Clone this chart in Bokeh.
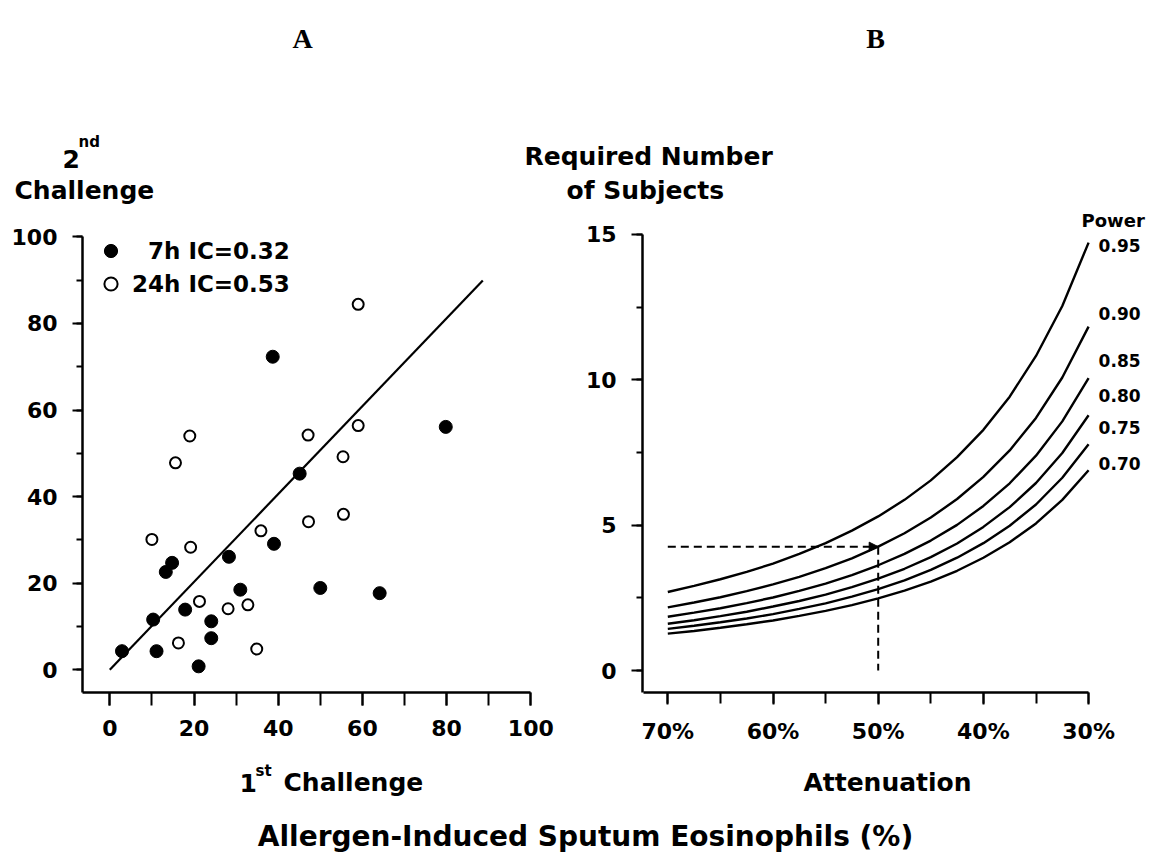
from bokeh.plotting import figure
from bokeh.models import (Range1d, SingleIntervalTicker, PrintfTickFormatter, Label, LabelSet,
                          Legend, LegendItem, ColumnDataSource, Arrow, NormalHead, LinearAxis)
from bokeh.core.properties import value
from bokeh.embed import file_html
from bokeh.resources import INLINE

# ---------------- Panel A data ----------------
h7_first = [2.9, 10.3, 11.1, 13.3, 14.8, 17.9, 21.1, 24.1, 24.1, 28.3, 31.0, 38.7, 39.0, 45.1, 50.0, 64.1, 79.8]
h7_second = [4.3, 11.6, 4.3, 22.6, 24.7, 13.9, 0.8, 11.2, 7.3, 26.1, 18.5, 72.3, 29.1, 45.3, 18.9, 17.7, 56.1]
h24_first = [10.0, 15.6, 16.3, 19.0, 19.2, 21.3, 28.1, 32.8, 34.9, 35.9, 47.1, 47.2, 55.4, 55.5, 59.0, 59.0]
h24_second = [30.1, 47.8, 6.2, 54.0, 28.3, 15.8, 14.1, 15.0, 4.8, 32.1, 54.2, 34.2, 49.2, 35.9, 56.4, 84.4]
fit_first = [0.0, 88.6]
fit_second = [0.0, 89.9]
legend_labels = ["\u00a0\u00a07h IC=0.32", "24h IC=0.53"]

# ---------------- Panel B data ----------------
attenuation = [70, 67.5, 65, 62.5, 60, 57.5, 55, 52.5, 50, 47.5, 45, 42.5, 40, 37.5, 35, 32.5, 30]
power_levels = ["0.95", "0.90", "0.85", "0.80", "0.75", "0.70"]
n_095 = [2.70, 2.91, 3.14, 3.39, 3.68, 4.01, 4.38, 4.81, 5.30, 5.87, 6.54, 7.34, 8.28, 9.42, 10.82, 12.54, 14.72]
n_090 = [2.17, 2.34, 2.52, 2.73, 2.96, 3.22, 3.52, 3.86, 4.26, 4.72, 5.26, 5.90, 6.66, 7.57, 8.69, 10.08, 11.83]
n_085 = [1.85, 1.99, 2.14, 2.32, 2.51, 2.74, 2.99, 3.28, 3.62, 4.01, 4.47, 5.01, 5.66, 6.44, 7.39, 8.57, 10.06]
n_080 = [1.61, 1.73, 1.87, 2.02, 2.20, 2.39, 2.61, 2.87, 3.16, 3.50, 3.90, 4.37, 4.94, 5.62, 6.45, 7.48, 8.78]
n_075 = [1.43, 1.54, 1.66, 1.79, 1.94, 2.12, 2.31, 2.54, 2.80, 3.10, 3.46, 3.88, 4.38, 4.98, 5.71, 6.63, 7.78]
n_070 = [1.27, 1.36, 1.47, 1.59, 1.72, 1.88, 2.05, 2.25, 2.48, 2.75, 3.06, 3.43, 3.88, 4.41, 5.06, 5.87, 6.89]
power_label_n = [14.62, 12.27, 10.66, 9.46, 8.37, 7.13]
ref_attenuation = 50
ref_n = 4.26

FONT = "DejaVu Sans"
SERIF = "Liberation Serif"
W, H = 1150, 855

# One canvas-sized frame; default ranges = page pixels (y measured from the top)
p = figure(width=W, height=H, x_range=Range1d(0, W), y_range=Range1d(H, 0),
           output_backend="svg", toolbar_location=None,
           x_axis_location=None, y_axis_location=None,
           min_border_left=0, min_border_right=0, min_border_top=0, min_border_bottom=0)
p.outline_line_color = None
p.grid.visible = False
p.background_fill_color = "white"
p.border_fill_color = "white"

# panel scales (A: x0 at 109.3 px, 4.21 px/unit; y0 at 669.3 px, 4.33 px/unit)
p.extra_x_ranges = {
    "ax": Range1d(-109.3 / 4.21, (W - 109.3) / 4.21),
    "bx": Range1d(70 + 667.3 / 10.52, 70 - (W - 667.3) / 10.52),
}
p.extra_y_ranges = {
    "ay": Range1d((669.3 - H) / 4.33, 669.3 / 4.33),
    "by": Range1d((670 - H) / 29.07, 670 / 29.07),
}


def make_axis(xr, yr, loc, bounds, interval, tick_out, minor_out, standoff, fmt=None):
    ax = LinearAxis(x_range_name=xr, y_range_name=yr, fixed_location=loc, bounds=bounds,
                    ticker=SingleIntervalTicker(interval=interval, num_minor_ticks=2))
    ax.axis_line_width = 2.5
    ax.axis_line_color = "black"
    ax.major_tick_line_width = 2
    ax.minor_tick_line_width = 2
    ax.major_tick_in = 0
    ax.minor_tick_in = 0
    ax.major_tick_out = tick_out
    ax.minor_tick_out = minor_out
    ax.major_label_standoff = standoff
    ax.major_label_text_font = FONT
    ax.major_label_text_font_style = "bold"
    ax.major_label_text_font_size = "22px"
    ax.major_label_text_color = "black"
    if fmt is not None:
        ax.formatter = fmt
    return ax


# ---------------- Panel A axes ----------------
p.add_layout(make_axis("ax", "default", 692, (-6.5, 100), 20, 13, 13, 14), "below")
p.add_layout(make_axis("default", "ay", 82, (-5.3, 100), 20, 10, 6, 15), "left")
# ---------------- Panel B axes ----------------
p.add_layout(make_axis("bx", "default", 692, (30, 72.3), 10, 12, 11, 14,
                       PrintfTickFormatter(format="%d%%")), "below")
p.add_layout(make_axis("default", "by", 642, (-0.76, 15), 5, 11, 6, 15), "left")

# ---------------- Panel A marks ----------------
p.line(fit_first, fit_second, x_range_name="ax", y_range_name="ay", line_color="black", line_width=2.2)
r_filled = p.scatter(h7_first, h7_second, x_range_name="ax", y_range_name="ay", marker="circle",
                     size=13, fill_color="black", line_color="black")
r_open = p.scatter(h24_first, h24_second, x_range_name="ax", y_range_name="ay", marker="circle",
                   size=11, fill_color="white", line_color="black", line_width=2)

leg = Legend(items=[LegendItem(label=legend_labels[0], renderers=[r_filled]),
                    LegendItem(label=legend_labels[1], renderers=[r_open])],
             location=(94, H - 300), orientation="vertical")
leg.background_fill_alpha = 0
leg.border_line_color = None
leg.padding = 0
leg.margin = 0
leg.spacing = 0
leg.glyph_width = 33
leg.glyph_height = 33
leg.label_height = 33
leg.label_standoff = 5
leg.label_text_font = FONT
leg.label_text_font_style = "bold"
leg.label_text_font_size = "23px"
leg.label_text_color = "black"
p.add_layout(leg)

# ---------------- Panel B marks ----------------
for series in [n_095, n_090, n_085, n_080, n_075, n_070]:
    p.line(attenuation, series, x_range_name="bx", y_range_name="by", line_color="black", line_width=2.4)

p.line([attenuation[0], ref_attenuation], [ref_n, ref_n], x_range_name="bx", y_range_name="by",
       line_color="black", line_width=2, line_dash="8 5")
p.line([ref_attenuation, ref_attenuation], [ref_n, 0], x_range_name="bx", y_range_name="by",
       line_color="black", line_width=2, line_dash="8 5")
p.add_layout(Arrow(end=NormalHead(size=9, fill_color="black", line_color="black"),
                   x_start=ref_attenuation + 1.0, y_start=ref_n, x_end=ref_attenuation, y_end=ref_n,
                   x_range_name="bx", y_range_name="by", line_alpha=0))

src = ColumnDataSource(dict(x=[attenuation[-1]] * len(power_levels), y=power_label_n, t=power_levels))
p.add_layout(LabelSet(x="x", y="y", text="t", source=src, x_range_name="bx", y_range_name="by",
                      x_offset=10, text_font=value(FONT), text_font_style="bold",
                      text_font_size="17px", text_baseline="middle", text_color="black"))


# ---------------- free texts (page pixel coordinates, alphabetic baseline) ----------------
def lab(text, x, y, size, align="left", font=FONT, style="bold"):
    p.add_layout(Label(x=x, y=y, text=text, text_font=font, text_font_style=style,
                       text_font_size=size, text_align=align, text_baseline="alphabetic",
                       text_color="black"))


lab("A", 302, 38, "28px", align="center", font=SERIF)
lab("B", 875, 38, "28px", align="center", font=SERIF)
lab("2", 62, 158, "25px")
lab("nd", 78, 141, "15px")
lab("Challenge", 14, 190, "25px")
lab("Required Number", 524, 156, "25px")
lab("of Subjects", 566, 190, "25px")
lab("Power", 1081, 220, "18px")
lab("1", 239, 782, "25px")
lab("st", 255, 770, "15px")
lab("Challenge", 283, 782, "25px")
lab("Attenuation", 887, 782, "25px", align="center")
lab("Allergen-Induced Sputum Eosinophils (%)", 585, 836, "28px", align="center")

open("out.html", "w").write(file_html(p, INLINE))
